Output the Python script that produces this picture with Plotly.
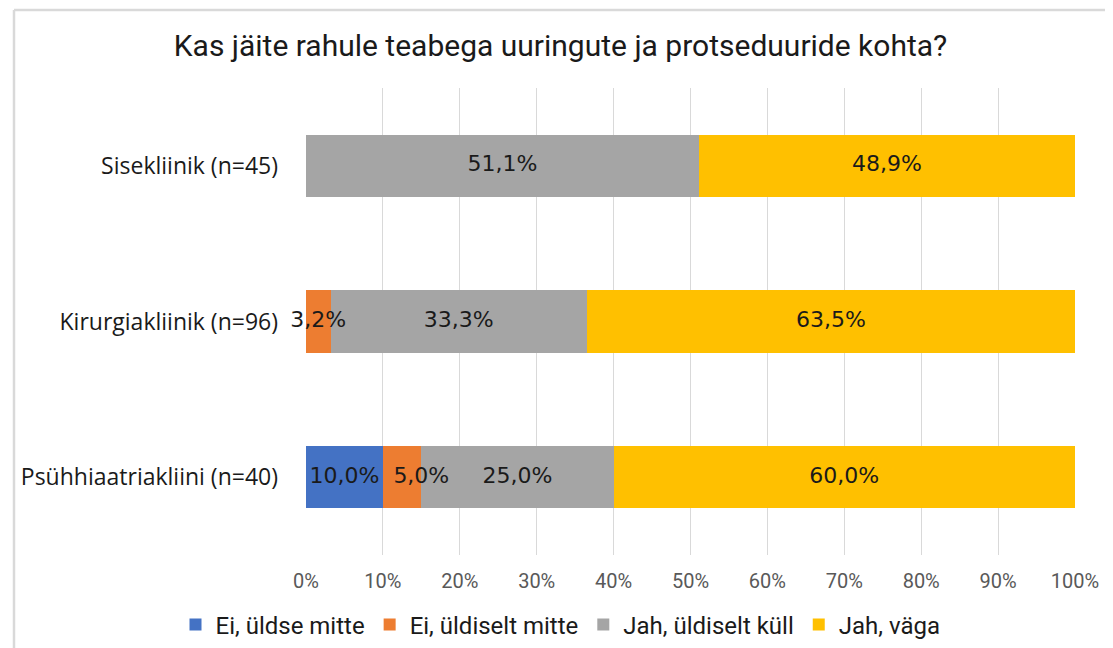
import plotly.graph_objects as go

categories = ["Sisekliinik (n=45)", "Kirurgiakliinik (n=96)", "Psühhiaatriakliini (n=40)"]
series_names = ["Ei, üldse mitte", "Ei, üldiselt mitte", "Jah, üldiselt küll", "Jah, väga"]
ei_yldse = [0.0, 0.0, 10.0]
ei_yldiselt = [0.0, 3.2, 5.0]
jah_yldiselt = [51.1, 33.3, 25.0]
jah_vaga = [48.9, 63.5, 60.0]
colors = ["#4472C4", "#ED7D31", "#A5A5A5", "#FFC000"]
tick_vals = [0, 10, 20, 30, 40, 50, 60, 70, 80, 90, 100]
tick_text = ["0%", "10%", "20%", "30%", "40%", "50%", "60%", "70%", "80%", "90%", "100%"]
title_text = "Kas jäite rahule teabega uuringute ja protseduuride kohta?"

all_series = [ei_yldse, ei_yldiselt, jah_yldiselt, jah_vaga]

W, H = 1105, 640
ML, MR, MT, MB = 298, 38, 80, 93
px_w = W - ML - MR
px_h = H - MT - MB
LABEL_SIZE = 22

fig = go.Figure()
for name, vals, col in zip(series_names, all_series, colors):
    fig.add_trace(go.Bar(
        y=categories, x=vals, name=name, orientation="h",
        marker=dict(color=col, line=dict(width=0)),
        hoverinfo="skip",
    ))

# data labels drawn above all bars (overflowing text stays visible);
# a label that would collide with the previous one is nudged right, like the original
char_em = {",": 0.318, "%": 0.95}
def text_px(s):
    return sum(char_em.get(c, 0.636) for c in s) * LABEL_SIZE

lab_x, lab_y, lab_t = [], [], []
base = [0.0] * len(categories)
prev_right = [None] * len(categories)
units_per_px = 100.0 / px_w
for vals in all_series:
    for i, v in enumerate(vals):
        if v > 0:
            t = ("%.1f%%" % v).replace(".", ",")
            half = text_px(t) / 2 * units_per_px
            cx = base[i] + v / 2
            if prev_right[i] is not None and cx - half < prev_right[i] + 14 * units_per_px:
                cx = prev_right[i] + 14 * units_per_px + half
            prev_right[i] = cx + half
            lab_x.append(cx)
            lab_y.append(categories[i])
            lab_t.append(t)
        base[i] += v
fig.add_trace(go.Scatter(
    x=lab_x, y=lab_y, text=lab_t, mode="text", textposition="middle center",
    textfont=dict(family="DejaVu Sans", size=LABEL_SIZE, color="#1a1a1a"),
    showlegend=False, hoverinfo="skip", cliponaxis=False,
))

fig.update_layout(
    barmode="stack",
    bargap=0.6,
    width=W, height=H,
    margin=dict(l=ML, r=MR, t=MT, b=MB, autoexpand=False),
    paper_bgcolor="white", plot_bgcolor="white",
    title=dict(text=title_text, x=0.5, xanchor="center", y=1 - 37 / H, yanchor="middle",
               font=dict(family="Roboto", size=30, color="#1a1a1a")),
    legend=dict(orientation="h", x=0.5, xanchor="center", xref="container",
                y=1 - 617 / H, yanchor="middle", yref="container",
                font=dict(family="Roboto", size=24, color="#1a1a1a"),
                traceorder="normal", itemwidth=30, tracegroupgap=0),
    showlegend=True,
)
fig.update_xaxes(range=[0, 100], tickvals=tick_vals, ticktext=tick_text,
                 showgrid=True, gridcolor="#D9D9D9", gridwidth=1.3,
                 zeroline=False, showline=False, automargin=False,
                 tickfont=dict(family="Roboto", size=20, color="#595959"),
                 ticks="", ticklabelstandoff=12, fixedrange=True)
fig.update_yaxes(autorange="reversed", showgrid=False, zeroline=False, showline=False,
                 automargin=False,
                 tickfont=dict(family="Open Sans", size=23, color="#1a1a1a"),
                 ticks="", ticklabelstandoff=27, fixedrange=True)

fig.add_shape(type="line", xref="paper", yref="paper",
              x0=(-292) / px_w, x1=(-292) / px_w, y0=-0.3, y1=1 + 78 / px_h,
              line=dict(color="#D9D9D9", width=2.5))
fig.add_shape(type="line", xref="paper", yref="paper",
              x0=(-292) / px_w, x1=1.1, y0=1 + 78 / px_h, y1=1 + 78 / px_h,
              line=dict(color="#D9D9D9", width=2.5))

fig.write_html("out.html")
